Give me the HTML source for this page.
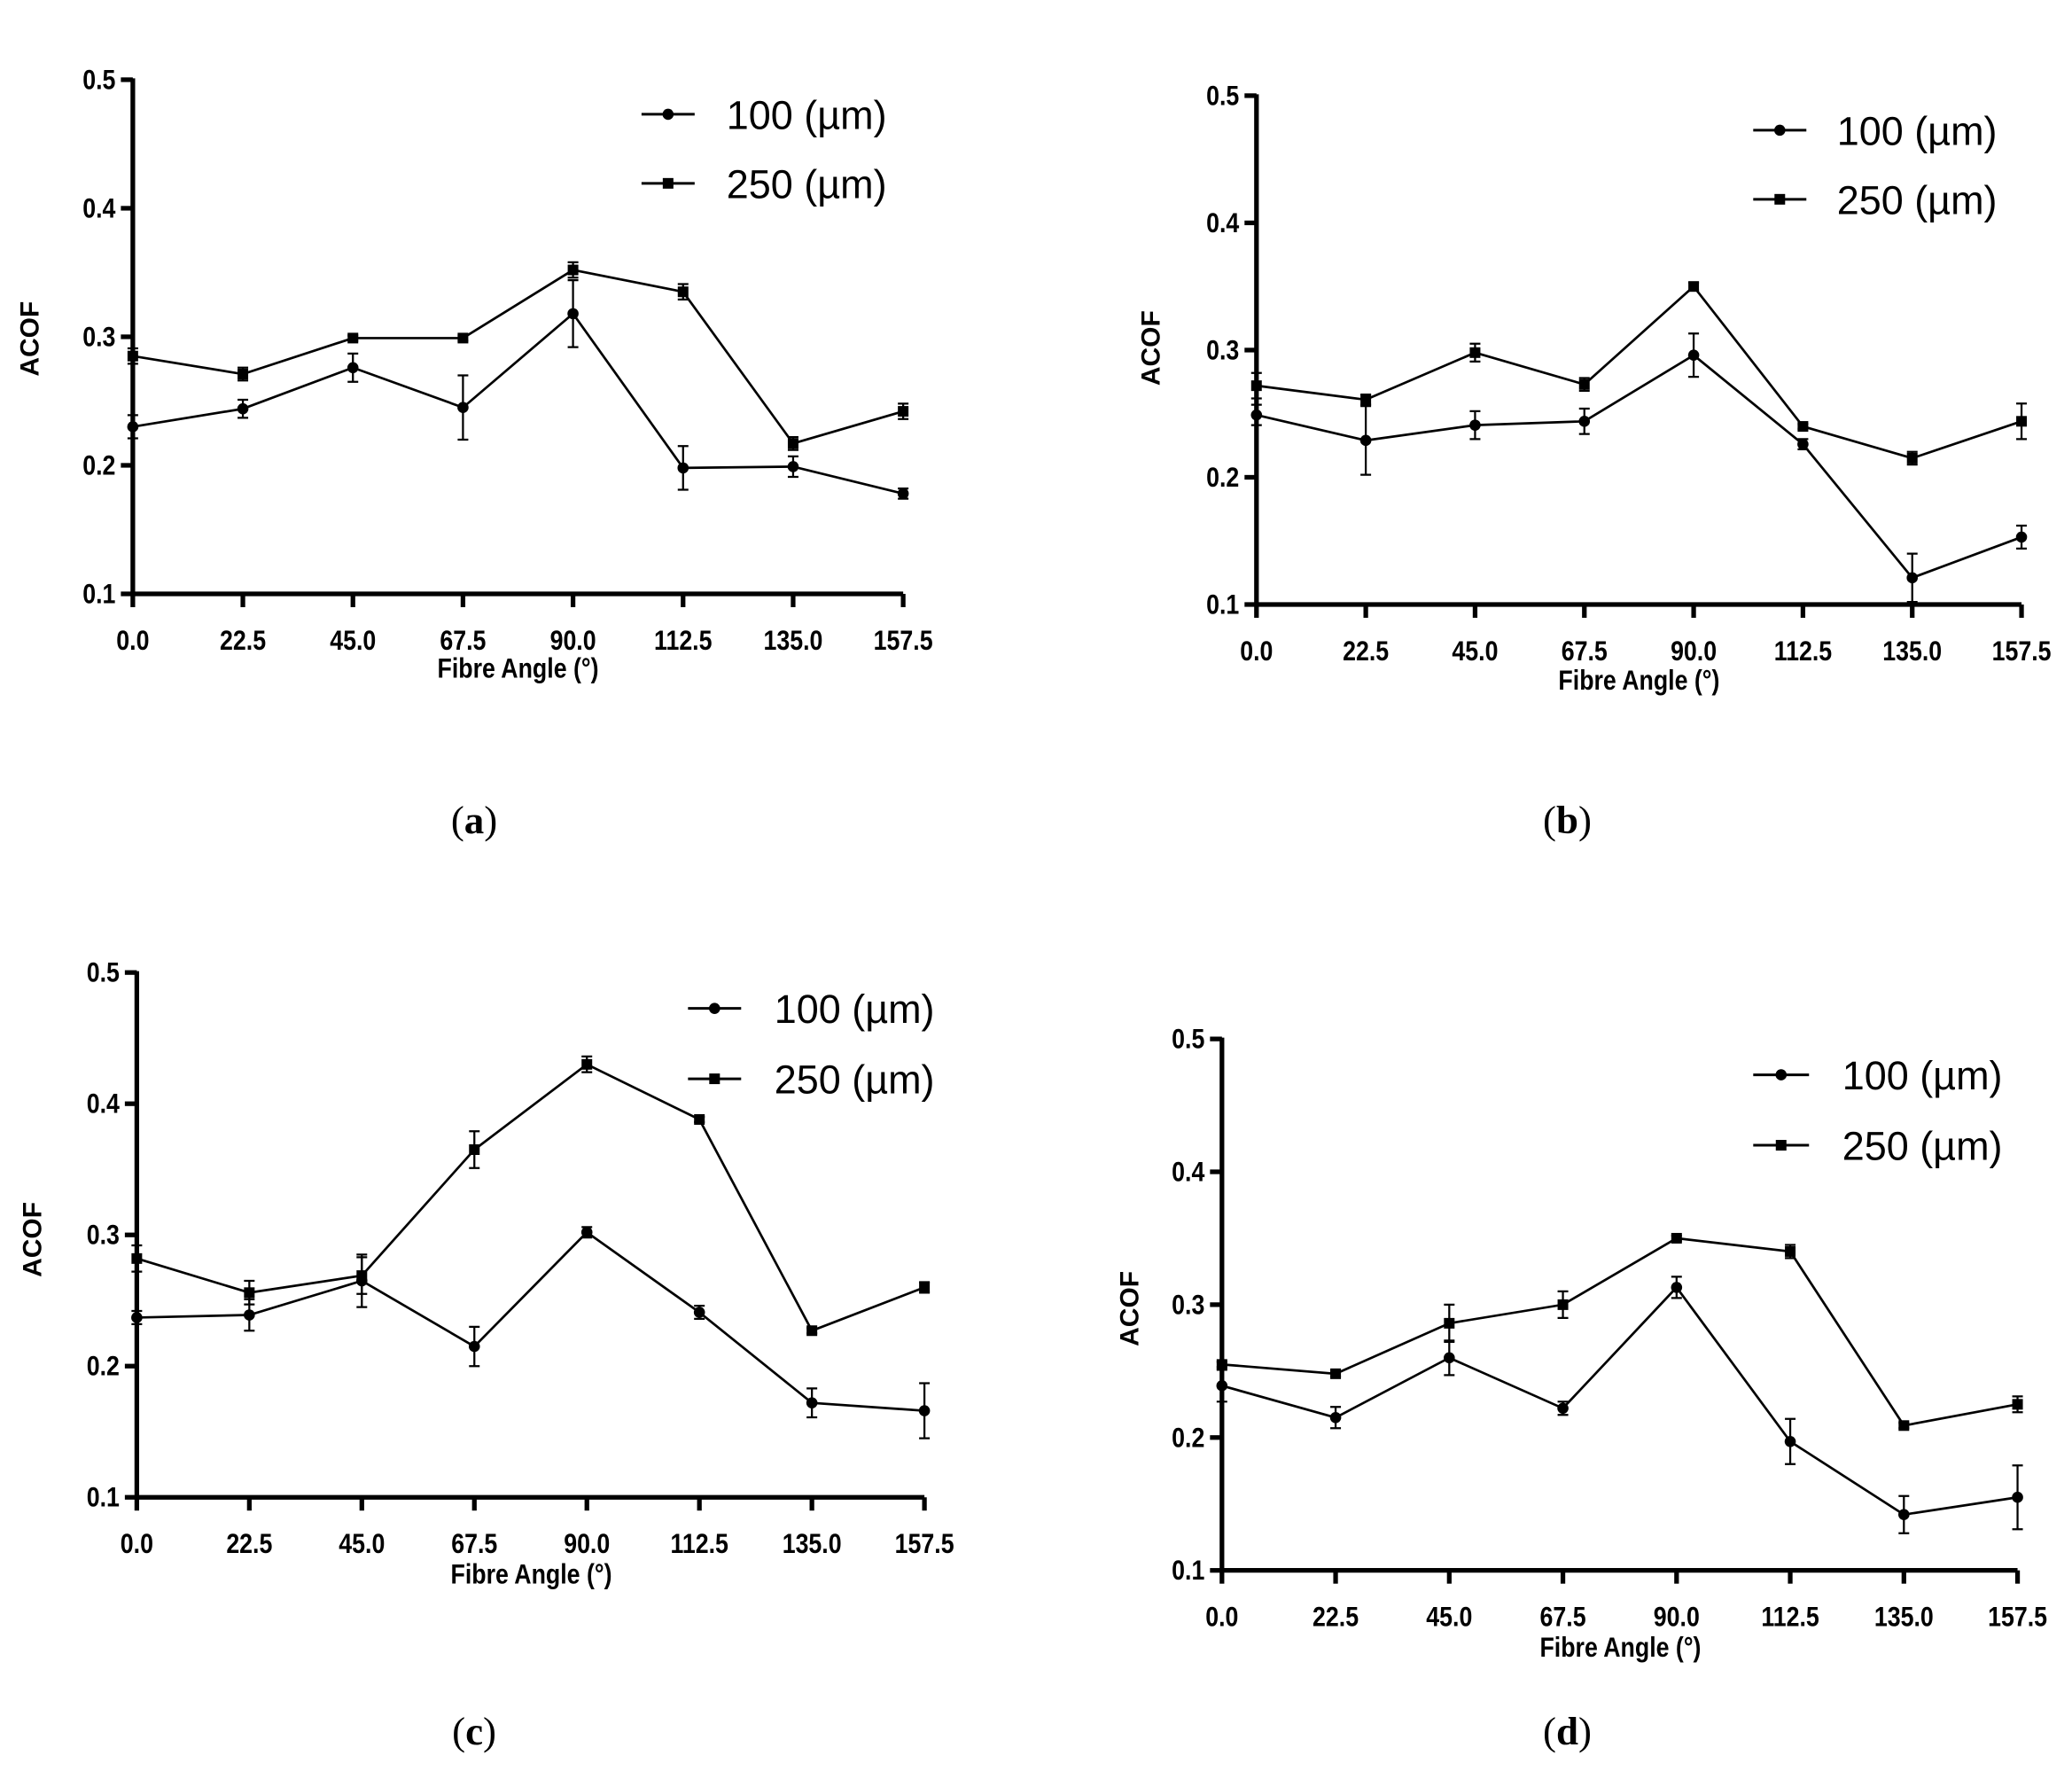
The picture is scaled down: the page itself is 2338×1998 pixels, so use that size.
<!DOCTYPE html>
<html><head><meta charset="utf-8"><style>
html,body{margin:0;padding:0;background:#fff}
svg{display:block}
</style></head><body>
<svg id="s" width="2338" height="1998" viewBox="0 0 1560 1333" preserveAspectRatio="none" xmlns="http://www.w3.org/2000/svg"></svg>
<script>
const P=[
{ax:100,x1:680,y5:60,y1:447,leg:[483,523,547,86,138],acof:[22,255],xl:[390,503],cap:[357,617,'a'],
 d1:[[.230,.009],[.244,.007],[.276,.011],[.245,.025],[.318,.026],[.198,.017],[.199,.008],[.178,.004]],
 d2:[[.285,.006],[.271,.005],[.299,.002],[.299,.002],[.352,.006],[.335,.006],[.217,.005],[.242,.006]]},
{ax:946,x1:1522,y5:72,y1:455,leg:[1320,1360,1383,98,150],acof:[866,262],xl:[1234,512],cap:[1180,617,'b'],
 d1:[[.249,.008],[.229,.027],[.241,.011],[.244,.010],[.296,.017],[.226,.004],[.121,.019],[.153,.009]],
 d2:[[.272,.010],[.261,.004],[.298,.007],[.273,.005],[.350,.003],[.240,.002],[.215,.005],[.244,.014]]},
{ax:103,x1:696,y5:732,y1:1127,leg:[518,558,583,759,812],acof:[24,933],xl:[400,1185],cap:[357,1303,'c'],
 d1:[[.237,.005],[.239,.012],[.265,.020],[.215,.015],[.302,.004],[.241,.005],[.172,.011],[.166,.021]],
 d2:[[.282,.010],[.256,.009],[.269,.014],[.365,.014],[.430,.006],[.388,.002],[.227,.002],[.260,.004]]},
{ax:920,x1:1519,y5:782,y1:1182,leg:[1320,1362,1387,809,862],acof:[850,985],xl:[1220,1240],cap:[1180,1303,'d'],
 d1:[[.239,.012],[.215,.008],[.260,.013],[.222,.005],[.313,.008],[.197,.017],[.142,.014],[.155,.024]],
 d2:[[.255,.002],[.248,.002],[.286,.014],[.300,.010],[.350,.002],[.340,.005],[.209,.002],[.225,.006]]}
];
let h='';
const TF='font-family="Liberation Sans, sans-serif" font-weight="bold"';
const T=(x,y,anc,fs,t)=>`<text transform="translate(${x},${y}) scale(0.85,1)" text-anchor="${anc}" font-size="${fs}" ${TF}>${t}</text>`;
P.forEach(p=>{
 const X=i=>p.ax+(p.x1-p.ax)*i/7, Y=v=>p.y1+(p.y5-p.y1)*(v-.1)/.4;
 h+=`<path d="M${p.ax} ${p.y5-1}V${p.y1}H${p.x1}" fill="none" stroke="#000" stroke-width="3.5"/>`;
 for(let k=0;k<5;k++){const y=Y(.1+k*.1);h+=`<line x1="${p.ax-9}" x2="${p.ax}" y1="${y}" y2="${y}" stroke="#000" stroke-width="3.5"/>`+T(p.ax-13,y+7,'end',21,(0.1+k*.1).toFixed(1));}
 ['0.0','22.5','45.0','67.5','90.0','112.5','135.0','157.5'].forEach((t,i)=>{const x=X(i);h+=`<line x1="${x}" x2="${x}" y1="${p.y1}" y2="${p.y1+10}" stroke="#000" stroke-width="3.5"/>`+T(x,p.y1+42,'middle',21,t);});
 [p.d1,p.d2].forEach((d,s)=>{
  h+=`<polyline points="${d.map((v,i)=>X(i)+','+Y(v[0])).join(' ')}" fill="none" stroke="#000" stroke-width="1.8"/>`;
  d.forEach((v,i)=>{const x=X(i),a=Y(v[0]+v[1]),b=Y(v[0]-v[1]);
   h+=`<path d="M${x} ${a}V${b}M${x-4} ${a}h8M${x-4} ${b}h8" stroke="#000" stroke-width="1.5" fill="none"/>`;
   h+= s?`<rect x="${x-4}" y="${Y(v[0])-4}" width="8" height="8"/>`:`<circle cx="${x}" cy="${Y(v[0])}" r="4.2"/>`;});
 });
 const L=p.leg;
 [[L[3],'100 (µm)',0],[L[4],'250 (µm)',1]].forEach(([y,t,s])=>{const m=(L[0]+L[1])/2;
  h+=`<line x1="${L[0]}" x2="${L[1]}" y1="${y}" y2="${y}" stroke="#000" stroke-width="2"/>`+(s?`<rect x="${m-4}" y="${y-4}" width="8" height="8"/>`:`<circle cx="${m}" cy="${y}" r="4.2"/>`)+
  `<text x="${L[2]}" y="${y+11}" font-size="30" font-family="Liberation Sans, sans-serif">${t}</text>`;});
 h+=`<text transform="translate(${p.acof[0]+7},${p.acof[1]}) rotate(-90)" text-anchor="middle" font-size="20" font-weight="bold" font-family="Liberation Sans, sans-serif">ACOF</text>`;
 h+=T(p.xl[0],p.xl[1]+7,'middle',21,'Fibre Angle (°)');
 h+=`<text x="${p.cap[0]}" y="${p.cap[1]+10}" text-anchor="middle" font-size="30" font-family="Liberation Serif, serif">(<tspan font-weight="bold">${p.cap[2]}</tspan>)</text>`;
});
document.getElementById('s').innerHTML=h;
</script>
</body></html>
